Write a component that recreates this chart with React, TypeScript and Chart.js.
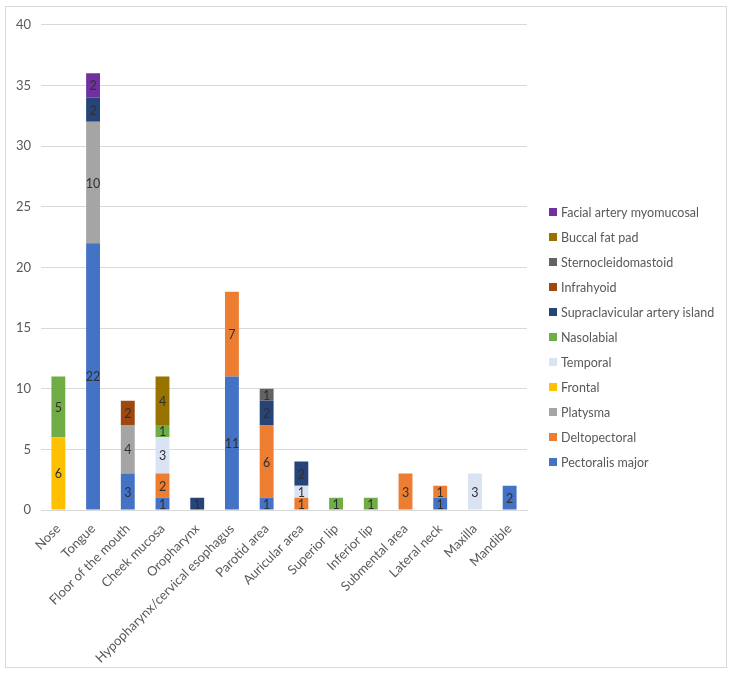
import React, { useEffect, useRef } from "react";
import { Chart, registerables } from "chart.js";

Chart.register(...registerables);

const categories = [
  "Nose",
  "Tongue",
  "Floor of the mouth",
  "Cheek mucosa",
  "Oropharynx",
  "Hypopharynx/cervical esophagus",
  "Parotid area",
  "Auricular area",
  "Superior lip",
  "Inferior lip",
  "Submental area",
  "Lateral neck",
  "Maxilla",
  "Mandible",
];

// null = flap not used at that site
const pectoralisMajor = [null, 22, 3, 1, null, 11, 1, null, null, null, null, 1, null, 2];
const deltopectoral = [null, null, null, 2, null, 7, 6, 1, null, null, 3, 1, null, null];
const platysma = [null, 10, 4, null, null, null, null, null, null, null, null, null, null, null];
const frontal = [6, null, null, null, null, null, null, null, null, null, null, null, null, null];
const temporal = [null, null, null, 3, null, null, null, 1, null, null, null, null, 3, null];
const nasolabial = [5, null, null, 1, null, null, null, null, 1, 1, null, null, null, null];
const supraclavicular = [null, 2, null, null, 1, null, 2, 2, null, null, null, null, null, null];
const infrahyoid = [null, null, 2, null, null, null, null, null, null, null, null, null, null, null];
const sternocleidomastoid = [null, null, null, null, null, null, 1, null, null, null, null, null, null, null];
const buccalFatPad = [null, null, null, 4, null, null, null, null, null, null, null, null, null, null];
const facialArteryMyomucosal = [null, 2, null, null, null, null, null, null, null, null, null, null, null, null];

const yTicks = [0, 5, 10, 15, 20, 25, 30, 35, 40];

const FONT = "Lato, 'Open Sans', sans-serif";
const TEXT = "#595959";

const series = [
  { label: "Pectoralis major", data: pectoralisMajor, color: "#4472C4" },
  { label: "Deltopectoral", data: deltopectoral, color: "#ED7D31" },
  { label: "Platysma", data: platysma, color: "#A5A5A5" },
  { label: "Frontal", data: frontal, color: "#FFC000" },
  { label: "Temporal", data: temporal, color: "#DAE3F3" },
  { label: "Nasolabial", data: nasolabial, color: "#70AD47" },
  { label: "Supraclavicular artery island", data: supraclavicular, color: "#264478" },
  { label: "Infrahyoid", data: infrahyoid, color: "#9E480E" },
  { label: "Sternocleidomastoid", data: sternocleidomastoid, color: "#636363" },
  { label: "Buccal fat pad", data: buccalFatPad, color: "#997300" },
  { label: "Facial artery myomucosal", data: facialArteryMyomucosal, color: "#7030A0" },
];

// Value labels centred in each stacked segment
const segmentLabels = {
  id: "segmentLabels",
  afterDatasetsDraw(chart: any) {
    const ctx = chart.ctx;
    ctx.save();
    ctx.font = `12.5px ${FONT}`;
    ctx.fillStyle = "#303030";
    ctx.textAlign = "center";
    ctx.textBaseline = "middle";
    chart.data.datasets.forEach((ds: any, i: number) => {
      const meta = chart.getDatasetMeta(i);
      meta.data.forEach((bar: any, j: number) => {
        const v = ds.data[j];
        if (v == null || v === 0) return;
        const y = (bar.y + bar.base) / 2;
        ctx.fillText(String(v), bar.x, y + 1);
      });
    });
    ctx.restore();
  },
};

// Legend listed top to bottom in reverse stacking order
const sideLegend = {
  id: "sideLegend",
  afterDraw(chart: any) {
    const ctx = chart.ctx;
    const ds = chart.data.datasets;
    const x = 543;
    const top = 205;
    const step = 25;
    ctx.save();
    ctx.font = `12.5px ${FONT}`;
    ctx.textBaseline = "middle";
    ctx.textAlign = "left";
    for (let k = 0; k < ds.length; k++) {
      const d = ds[ds.length - 1 - k];
      const cy = top + k * step;
      ctx.fillStyle = d.backgroundColor;
      ctx.fillRect(x, cy - 4, 8, 8);
      ctx.fillStyle = TEXT;
      ctx.fillText(d.label, x + 12, cy + 1);
    }
    ctx.restore();
  },
};

export default function App() {
  const ref = useRef<HTMLCanvasElement | null>(null);

  useEffect(() => {
    if (!ref.current) return;
    const chart = new Chart(ref.current, {
      type: "bar",
      data: {
        labels: categories,
        datasets: series.map((s) => ({
          label: s.label,
          data: s.data,
          backgroundColor: s.color,
          borderWidth: 0,
          categoryPercentage: 1,
          barPercentage: 0.4,
        })),
      },
      options: {
        responsive: false,
        animation: false,
        layout: { padding: { top: 17, right: 199, left: 0, bottom: 0 } },
        plugins: {
          legend: { display: false },
          tooltip: { enabled: false },
        },
        scales: {
          x: {
            stacked: true,
            grid: { display: false },
            border: { display: true, color: "#d9d9d9", width: 1 },
            ticks: {
              color: TEXT,
              font: { family: FONT, size: 13 },
              minRotation: 45,
              maxRotation: 45,
              autoSkip: false,
              padding: 3,
            },
            afterFit: (scale: any) => {
              scale.height = 157;
            },
          },
          y: {
            stacked: true,
            min: 0,
            max: 40,
            afterBuildTicks: (scale: any) => {
              scale.ticks = yTicks.map((v) => ({ value: v }));
            },
            grid: { color: "#d9d9d9", drawTicks: false, lineWidth: 1 },
            border: { display: false },
            ticks: {
              color: TEXT,
              font: { family: FONT, size: 13 },
              padding: 10,
            },
            afterFit: (scale: any) => {
              scale.width = 35;
            },
          },
        },
      },
      plugins: [segmentLabels, sideLegend],
    });
    return () => chart.destroy();
  }, []);

  return (
    <div
      style={{
        position: "absolute",
        left: 5,
        top: 6,
        width: 720,
        height: 660,
        border: "1px solid #d9d9d9",
        background: "#fff",
      }}
    >
      <canvas ref={ref} width={720} height={660} style={{ display: "block" }} />
    </div>
  );
}
